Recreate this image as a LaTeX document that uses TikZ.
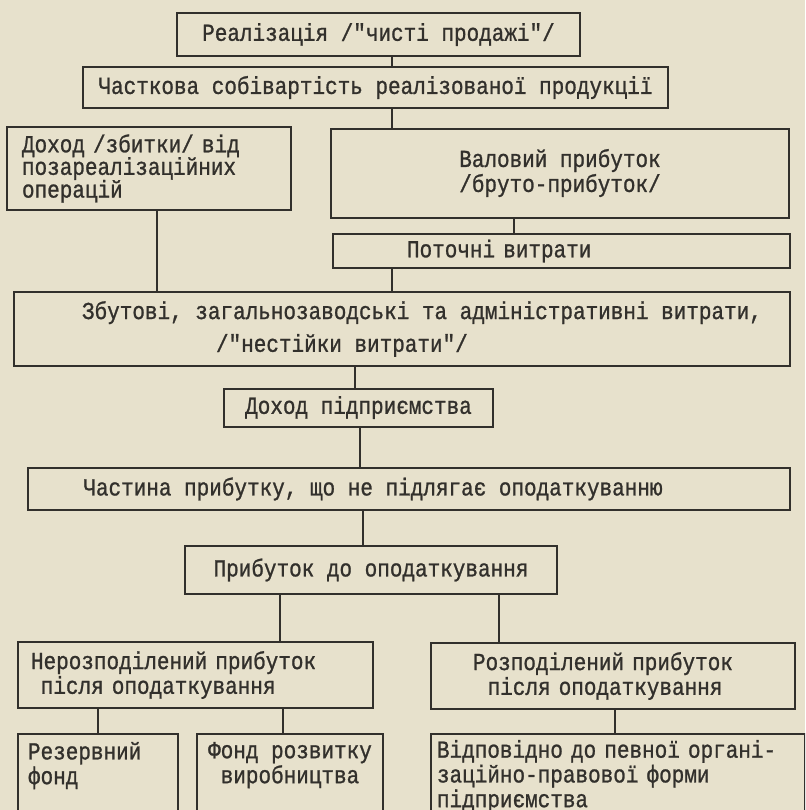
\documentclass[tikz,border=0pt]{standalone}
\usepackage{fontspec}
\newfontfamily\tw{Liberation Mono}[FakeBold=1, FakeStretch=0.86]
\usepackage{tikz}

\definecolor{paper}{RGB}{231,225,204}
\definecolor{ink}{RGB}{50,48,44}

\tikzset{
  box/.style={draw=ink, line width=1pt, text=ink, inner sep=2pt, align=center,
    font=\tw\fontsize{12.2pt}{11pt}\selectfont},
  link/.style={draw=ink, line width=0.8pt}
}

\begin{document}
\begin{tikzpicture}[x=0.5pt, y=-0.5pt]
    \fill[paper] (0,0) rectangle (805,810);
    \useasboundingbox (0,0) rectangle (805,810);
    \clip (0,0) rectangle (805,810);
    % top of the scheme
    \node[box, minimum width=201.5pt, minimum height=21.5pt] (real) at (378.5, 34.5) {Реалізація /"чисті продажі"/};
    \node[box, minimum width=292.5pt, minimum height=20.5pt] (cost) at (375.5, 87.5) {Часткова собівартість реалізованої продукції};
    \node[box, minimum width=142pt, minimum height=41.5pt, inner xsep=7.5pt, text width=127pt, align=left] (nonop) at (149, 168.5) {Доход /збитки/ від\\[-1pt]позареалізаційних\\[-1pt]операцій};
    \node[box, minimum width=229pt, minimum height=44.5pt, align=left] (gross) at (560, 173) {Валовий прибуток\\/бруто-прибуток/};
    \node[box, minimum width=228.5pt, minimum height=17pt, inner xsep=37pt, text width=154.5pt, align=left] (curr) at (561.5, 251) {Поточні витрати};
    \node[box, minimum width=388pt, minimum height=37pt, align=left] (sales) at (402, 329) {\hspace*{20pt}Збутові, загальнозаводські та адміністративні витрати,\\[4pt]\hspace*{87pt}/"нестійки витрати"/};
    \node[box, minimum width=134.5pt, minimum height=19pt] (income) at (358.5, 407.5) {Доход підприємства};
    \node[box, minimum width=381pt, minimum height=21pt] (part) at (409, 489) {Частина прибутку, що не підлягає оподаткуванню\hspace*{36pt}};
    \node[box, minimum width=186pt, minimum height=24pt] (taxable) at (371, 570) {Прибуток до оподаткування};
    % after taxation
    \node[box, minimum width=177.5pt, minimum height=33pt, inner xsep=6.5pt, text width=164.5pt, align=left] (undist) at (195.5, 675) {Нерозподілений прибуток\\\hspace*{0.4em}після оподаткування};
    \node[box, minimum width=182pt, minimum height=33pt, inner xsep=21pt, text width=140pt, align=left] (dist) at (613, 676) {Розподілений прибуток\\\hspace*{0.6em}після оподаткування};
    \node[box, anchor=north, minimum width=80pt, inner xsep=5pt, inner ysep=4pt, text width=70pt, align=left, text depth=40pt] (reserve) at (98, 733) {Резервний\\фонд};
    \node[box, anchor=north, minimum width=93pt, inner ysep=4pt, text depth=40pt] (fund) at (290, 733) {Фонд розвитку\\виробництва};
    \node[box, anchor=north, minimum width=187pt, inner xsep=3pt, inner ysep=3pt, text width=181pt, align=left, text depth=30pt] (org) at (618, 733) {Відповідно до певної органі-\\заційно-правової форми\\підприємства};
    % connectors
    \draw[link] (real.south -| 392,0) -- (cost.north -| 392,0);
    \draw[link] (cost.south -| 392,0) -- (gross.north -| 392,0);
    \draw[link] (gross.south -| 514,0) -- (curr.north -| 514,0);
    \draw[link] (curr.south -| 392,0) -- (sales.north -| 392,0);
    \draw[link] (nonop.south -| 157,0) -- (sales.north -| 157,0);
    \draw[link] (sales.south -| 355,0) -- (income.north -| 355,0);
    \draw[link] (income.south -| 360,0) -- (part.north -| 360,0);
    \draw[link] (part.south -| 363,0) -- (taxable.north -| 363,0);
    \draw[link] (taxable.south -| 280,0) -- (undist.north -| 280,0);
    \draw[link] (taxable.south -| 499,0) -- (dist.north -| 499,0);
    \draw[link] (undist.south -| 98,0) -- (reserve.north -| 98,0);
    \draw[link] (undist.south -| 283,0) -- (fund.north -| 283,0);
    \draw[link] (dist.south -| 615,0) -- (org.north -| 615,0);
\end{tikzpicture}
\end{document}
